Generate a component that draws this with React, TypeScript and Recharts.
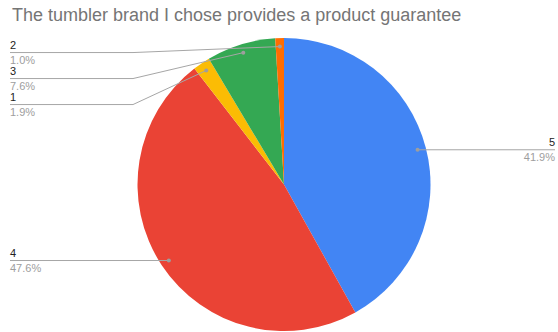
import React from "react";
import { PieChart, Pie, Cell } from "recharts";

const categories = ["5", "4", "1", "3", "2"];
const counts = [44, 50, 2, 8, 1];
const percentLabels = ["41.9%", "47.6%", "1.9%", "7.6%", "1.0%"];
const colors = ["#4285f4", "#ea4335", "#fbbc04", "#34a853", "#ff6d01"];

const chartData = categories.map((name, i) => ({
  name,
  value: counts[i],
  pct: percentLabels[i],
}));

const CX = 284;
const CY = 184.5;
const R = 146.5;
const DOT_R = 138;
const RAD = Math.PI / 180;
const FONT = "Arial, 'Liberation Sans', sans-serif";

// work out where every leader line ends up, stacking the crowded top-left ones
const total = counts.reduce((a, b) => a + b, 0);
const labelLayout = (() => {
  let start = 90;
  const mids = counts.map((c) => {
    const sweep = (c / total) * 360;
    const mid = start - sweep / 2;
    start -= sweep;
    return mid;
  });
  const items = mids.map((m, i) => {
    const x = CX + DOT_R * Math.cos(m * RAD);
    const y = CY - DOT_R * Math.sin(m * RAD);
    return { i, x, y, lineY: y, left: x < CX, upper: y < CY };
  });
  const stacked = items
    .filter((it) => it.left && it.upper)
    .sort((a, b) => a.y - b.y);
  let prev = -Infinity;
  stacked.forEach((it) => {
    it.lineY = Math.max(it.y + 6, prev + 26);
    prev = it.lineY;
  });
  return items;
})();

const renderLabel = (props: any) => {
  const { index } = props;
  const l = labelLayout[index];
  const d = chartData[index];
  const textX = l.left ? 10 : 555;
  const anchor = l.left ? "start" : "end";
  const kinkX = l.left ? 133 : l.x;
  const points =
    l.lineY === l.y
      ? `${l.x},${l.y} ${textX},${l.lineY}`
      : `${l.x},${l.y} ${kinkX},${l.lineY} ${textX},${l.lineY}`;
  return (
    <g key={`lbl-${index}`}>
      <polyline points={points} fill="none" stroke="#a6a6a6" strokeWidth={1} />
      <circle cx={l.x} cy={l.y} r={2} fill="#9e9e9e" />
      <text
        x={textX}
        y={l.lineY - 4}
        textAnchor={anchor}
        fontSize={11}
        fontFamily={FONT}
        fill="#222222"
      >
        {d.name}
      </text>
      <text
        x={textX}
        y={l.lineY + 11}
        textAnchor={anchor}
        fontSize={11}
        fontFamily={FONT}
        fill="#9e9e9e"
      >
        {d.pct}
      </text>
    </g>
  );
};

export default function App() {
  return (
    <div
      style={{
        position: "absolute",
        left: 0,
        top: 0,
        width: 558,
        height: 332,
        background: "#fff",
        overflow: "hidden",
      }}
    >
      <div
        style={{
          position: "absolute",
          left: 12,
          top: 5,
          fontFamily: FONT,
          fontSize: 18,
          color: "#757575",
          whiteSpace: "nowrap",
        }}
      >
        The tumbler brand I chose provides a product guarantee
      </div>
      <PieChart
        width={558}
        height={332}
        margin={{ top: 0, right: 0, bottom: 0, left: 0 }}
      >
        <Pie
          data={chartData}
          dataKey="value"
          nameKey="name"
          cx={CX}
          cy={CY}
          outerRadius={R}
          startAngle={90}
          endAngle={-270}
          stroke="none"
          label={renderLabel}
          labelLine={false}
          isAnimationActive={false}
        >
          {chartData.map((_, i) => (
            <Cell key={i} fill={colors[i]} />
          ))}
        </Pie>
      </PieChart>
    </div>
  );
}
